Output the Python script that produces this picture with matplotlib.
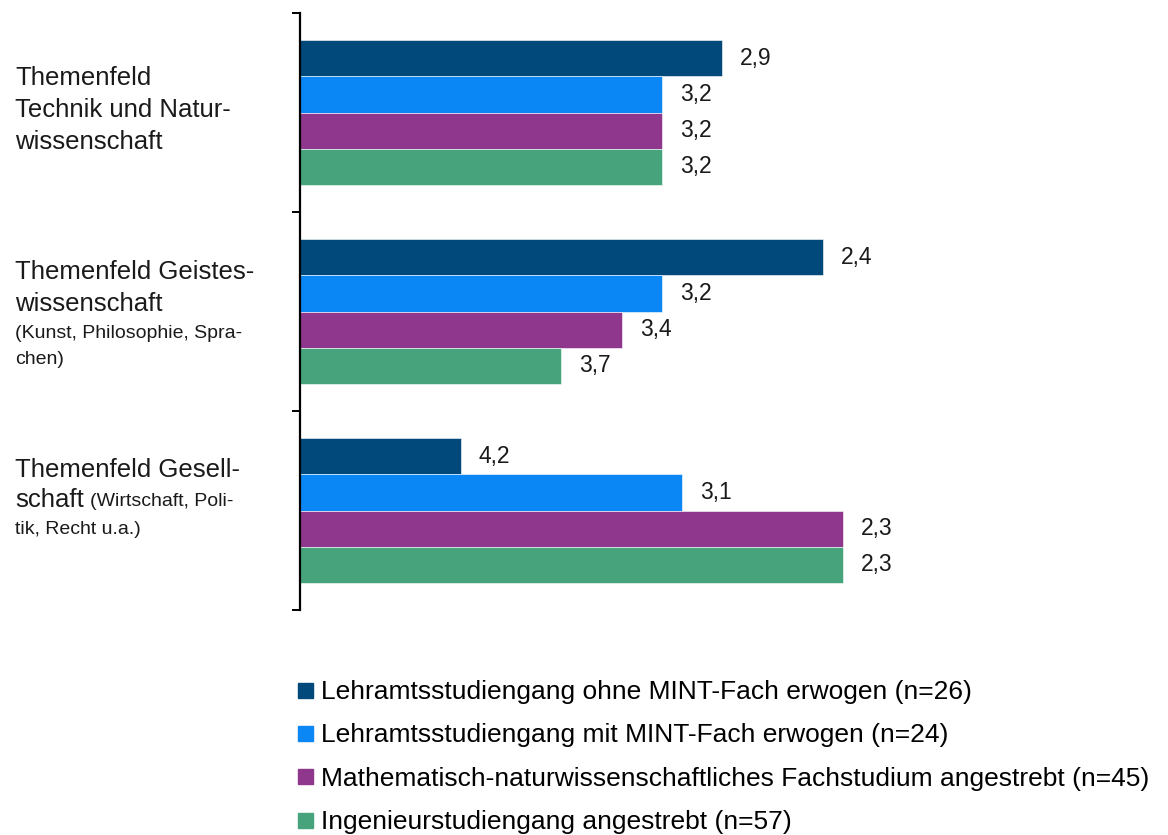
import matplotlib.pyplot as plt
import numpy as np
from matplotlib.lines import Line2D

plt.rcParams['font.family'] = ['Liberation Sans', 'DejaVu Sans']

# Data: average ratings (lower = better); bars drawn from 5 towards the value
groups = ["Technik", "Geisteswissenschaft", "Gesellschaft"]
series = [
	"Lehramtsstudiengang ohne MINT-Fach erwogen (n=26)",
	"Lehramtsstudiengang mit MINT-Fach erwogen (n=24)",
	"Mathematisch-naturwissenschaftliches Fachstudium angestrebt (n=45)",
	"Ingenieurstudiengang angestrebt (n=57)",
]
ohne_mint = [2.9, 2.4, 4.2]
mit_mint = [3.2, 3.2, 3.1]
mathe_nawi = [3.2, 3.4, 2.3]
ingenieur = [3.2, 3.7, 2.3]
colors = ["#00497A", "#0A87F5", "#8F378C", "#46A37B"]

W, H = 1168, 835
fig = plt.figure(figsize=(W / 100, H / 100), dpi=100)
ax = fig.add_axes([300 / W, (H - 610) / H, 804 / W, 597 / H])

base = 5.0
bar_h = 0.181
y = np.arange(len(groups))
for i, vals in enumerate([ohne_mint, mit_mint, mathe_nawi, ingenieur]):
	ypos = y + (i - 1.5) * bar_h
	vals = np.array(vals)
	ax.barh(ypos, vals - base, left=base, height=bar_h, color=colors[i],
			edgecolor="white", linewidth=0.4)
	for yy, v in zip(ypos, vals):
		ax.annotate(f"{v:.1f}".replace(".", ","), (v, yy), xytext=(13, 0),
					textcoords="offset points", va="center", ha="left",
					fontsize=16.5, color="#1a1a1a")

ax.set_xlim(base, 1.0)
ax.set_ylim(2.5, -0.5)
ax.set_yticks([-0.5, 0.5, 1.5, 2.5])
ax.set_yticklabels([])
ax.set_xticks([])
for s in ["top", "right", "bottom"]:
	ax.spines[s].set_visible(False)
ax.spines["left"].set_linewidth(1.6)
ax.tick_params(axis="y", length=6, width=1.4, direction="out")

# group labels (pixel positions from the reference)
big, small = 18.5, 14
def put(x, ypx, s, size):
	return fig.text(x / W, 1 - ypx / H, s, fontsize=size, va="center", ha="left", color="#1a1a1a")

put(15, 78, "Themenfeld", big)
put(15, 110, "Technik und Natur-", big)
put(15, 142, "wissenschaft", big)

put(15, 272, "Themenfeld Geistes-", big)
put(15, 304, "wissenschaft", big)
put(15, 333, "(Kunst, Philosophie, Spra-", small)
put(15, 359, "chen)", small)

put(15, 470, "Themenfeld Gesell-", big)
t = put(15, 500, "schaft", big)
fig.canvas.draw()
bb = t.get_window_extent(fig.canvas.get_renderer())
put(bb.x1 + 6, 501, "(Wirtschaft, Poli-", small)
put(15, 530, "tik, Recht u.a.)", small)

handles = [Line2D([], [], marker="s", linestyle="none", markersize=10.8,
				  markerfacecolor=c, markeredgecolor=c) for c in colors]
fig.legend(handles, series, loc="upper left", bbox_to_anchor=(297 / W, 1 - 680 / H),
		   frameon=False, fontsize=19, handlelength=0.6, handletextpad=0.3,
		   labelspacing=0.73, borderaxespad=0, borderpad=0)

fig.savefig("out.png", dpi=100)
